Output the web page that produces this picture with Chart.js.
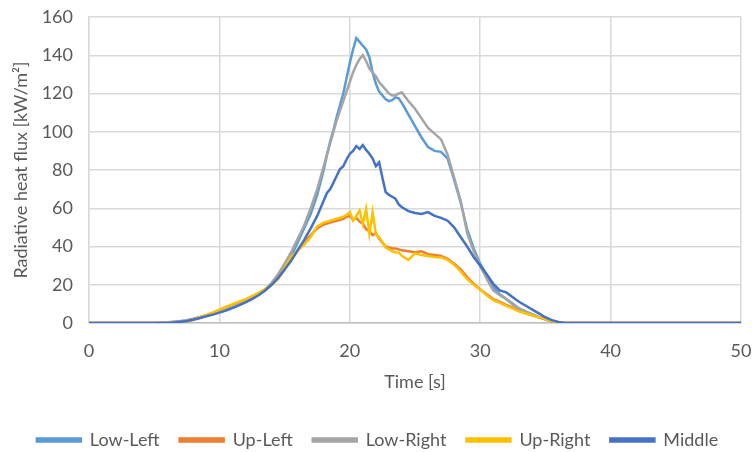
<!DOCTYPE html>
<html>
<head>
<meta charset="utf-8">
<script src="https://cdn.jsdelivr.net/npm/chart.js@4/dist/chart.umd.min.js"></script>
<style>
	html, body { margin: 0; padding: 0; background: #fff; }
	#fluxChart { display: block; }
</style>
</head>
<body>
<canvas id="fluxChart" width="755" height="452"></canvas>
<script>
// Tiempo [s] (muestreo compartido por todas las series)
const time = [
	0, 5, 5.5, 6, 6.5, 7, 7.5, 8, 8.5, 9, 9.5, 10, 10.5, 11, 11.5, 12, 12.5, 13, 13.5, 14,
	14.5, 15, 15.5, 16, 16.5, 17, 17.5, 18, 18.25, 18.5, 18.75, 19, 19.25, 19.5, 19.75, 20,
	20.25, 20.5, 20.75, 21, 21.25, 21.5, 21.75, 22, 22.25, 22.5, 22.75, 23, 23.25, 23.5, 23.75, 24,
	24.5, 25, 25.5, 26, 26.5, 27, 27.5, 28, 28.5, 29, 29.5, 30, 30.5, 31, 31.5, 32, 32.5, 33,
	33.5, 34, 34.5, 35, 35.5, 36, 36.5, 37, 50,
];

// Flujo de calor radiativo [kW/m2]
const lowLeft = [
	0, 0, 0, 0.2, 0.5, 0.8, 1.3, 2, 2.9, 3.8, 4.7, 5.8, 7, 8.2, 9.5, 11, 12.8, 14.8, 17, 20,
	24, 29, 35, 42, 49.5, 57, 67, 80, 88, 95, 101, 108, 114, 120, 128, 136,
	143, 149, 147, 145, 143, 139, 131, 125, 121, 119, 117, 116, 116.5, 118, 117.5, 115,
	109, 103, 97, 92, 90, 89.5, 86, 75, 63, 49, 39, 31, 25, 19, 15, 12.5, 10, 7.5,
	6, 4.5, 3.2, 2, 0.8, 0, 0, 0, 0,
];
const upLeft = [
	0, 0, 0, 0, 0, 0.3, 0.9, 1.6, 2.6, 3.8, 5, 6.5, 7.8, 9, 10.5, 12, 13.8, 15.5, 17.5, 20,
	23, 28, 33, 38, 42, 46, 49.5, 51.5, 52, 52.5, 53, 53.5, 54, 54.5, 55.5, 56,
	54, 55, 53, 52, 49, 48, 46, 47, 44, 42, 40, 39.5, 39, 39, 38.5, 38,
	37.5, 37, 37.5, 36, 35.5, 35, 33.5, 31, 28, 24, 20.5, 17.5, 15, 12.5, 11, 9.5, 8, 6.5,
	5, 4, 3, 2, 1, 0.3, 0, 0, 0,
];
const lowRight = [
	0, 0, 0.2, 0.4, 0.7, 1, 1.5, 2.3, 3.2, 4, 5, 6.2, 7.3, 8.5, 9.8, 11.5, 13.2, 15, 17.5, 21,
	25.5, 31, 37, 44, 51, 60, 70, 82, 88, 94, 100, 106, 111, 116, 121, 126,
	131, 135, 138, 140, 137, 133, 131, 129, 126, 124, 122, 120, 119, 119, 120, 120.5,
	116, 112, 107, 102, 99, 96, 88, 76, 64, 47, 37.5, 30, 23, 17, 14.5, 12.5, 9.5, 7.5,
	6, 4.5, 3, 1.8, 0.6, 0, 0, 0, 0,
];
const upRight = [
	0, 0, 0, 0, 0, 0.2, 1, 1.9, 3, 4.2, 5.5, 7, 8.5, 9.8, 11.2, 12.4, 14, 15.8, 17.8, 20,
	23, 29, 34.5, 38, 41, 45, 50.5, 52.5, 53, 53.5, 54, 54.5, 55, 55.5, 56.5, 58,
	53.5, 56, 58.8, 51.8, 59.6, 46.5, 57.9, 46.5, 44.8, 42, 39.5, 38.5, 37.5, 37, 36.9, 35,
	33, 36.5, 35.5, 35, 34.5, 34.3, 33, 30.5, 27, 23, 20, 17.5, 14.5, 12, 10.5, 9, 7.5, 6,
	5, 4, 3, 2, 0.9, 0, 0, 0, 0,
];
const middle = [
	0, 0, 0, 0, 0.3, 0.6, 1.1, 1.8, 2.6, 3.5, 4.4, 5.4, 6.5, 7.8, 9.2, 10.8, 12.5, 14.5, 17, 20,
	23.5, 28, 32.5, 38, 43.5, 49.5, 56, 64, 68, 70, 73.5, 77, 80.5, 82, 85.5, 88.5,
	90, 92.5, 91, 93, 90.5, 88.5, 86, 82, 84, 76, 68.5, 67, 66, 65, 62, 60.5,
	58.5, 57.5, 57, 58, 56, 55, 53.5, 50, 45, 40, 34.5, 30, 25.5, 20.5, 17, 16, 13.5, 11,
	9, 7, 5, 3, 1.5, 0.5, 0, 0, 0,
];

const seriesNames = ["Low-Left", "Up-Left", "Low-Right", "Up-Right", "Middle"];
const seriesValues = [lowLeft, upLeft, lowRight, upRight, middle];
const seriesColors = ["#5B9BD5", "#ED7D31", "#A5A5A5", "#FFC000", "#4472C4"];

const FONT = "Lato, 'Open Sans', sans-serif";
const TEXT_COLOR = "#595959";
const GRID_COLOR = "#d9d9d9";

function buildDatasets() {
	return seriesNames.map((name, i) => ({
		label: name,
		data: time.map((t, k) => ({ x: t, y: seriesValues[i][k] })),
		borderColor: seriesColors[i],
		backgroundColor: seriesColors[i],
		borderWidth: 2.5,
		pointRadius: 0,
		tension: 0,
		fill: false,
		// como en Excel: la última serie queda encima
		order: seriesNames.length - i,
	}));
}

const ctx = document.getElementById("fluxChart").getContext("2d");
new Chart(ctx, {
	type: "line",
	data: { datasets: buildDatasets() },
	options: {
		responsive: false,
		devicePixelRatio: 1,
		animation: false,
		layout: { padding: { top: 17, right: 0, bottom: -7, left: 0 } },
		plugins: {
			tooltip: { enabled: false },
			legend: {
				position: "bottom",
				labels: {
					boxWidth: 44,
					boxHeight: 3,
					padding: 20,
					color: TEXT_COLOR,
					font: { family: FONT, size: 18 },
					sort: (a, b) => a.datasetIndex - b.datasetIndex,
				},
			},
		},
		scales: {
			x: {
				type: "linear",
				min: 0,
				max: 50,
				ticks: {
					stepSize: 10,
					padding: 17,
					color: TEXT_COLOR,
					font: { family: FONT, size: 18 },
				},
				grid: { color: GRID_COLOR, lineWidth: 1.5, drawTicks: false },
				border: { color: "#bfbfbf", width: 1.5 },
				title: {
					display: true,
					text: "Time [s]",
					color: TEXT_COLOR,
					font: { family: FONT, size: 18 },
					padding: { top: 2, bottom: 18 },
				},
				afterFit: (scale) => {
					scale.height = 88;
					scale.paddingLeft = 0;
					scale.paddingRight = 14;
				},
			},
			y: {
				min: 0,
				max: 160,
				ticks: {
					stepSize: 20,
					padding: 16,
					color: TEXT_COLOR,
					font: { family: FONT, size: 18 },
				},
				grid: { color: GRID_COLOR, lineWidth: 1.5, drawTicks: false },
				border: { color: GRID_COLOR, width: 1.5 },
				title: {
					display: true,
					text: "Radiative heat flux [kW/m²]",
					color: TEXT_COLOR,
					font: { family: FONT, size: 18 },
					padding: { top: 10, bottom: 0 },
				},
				afterFit: (scale) => {
					scale.width = 89;
					scale.paddingTop = 0;
					scale.paddingBottom = 0;
				},
			},
		},
	},
});
</script>
</body>
</html>
